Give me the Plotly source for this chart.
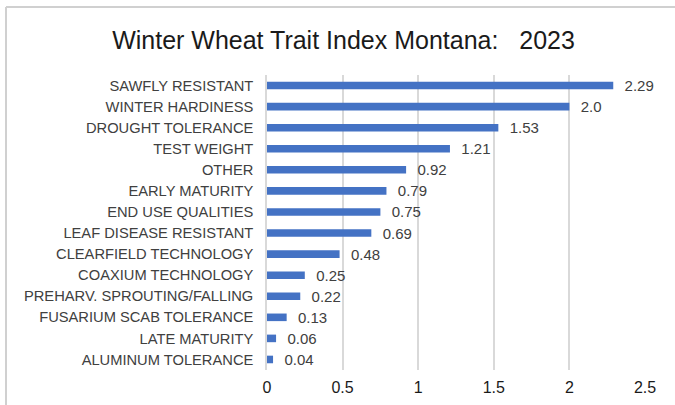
import plotly.graph_objects as go

traits = [
    "SAWFLY RESISTANT", "WINTER HARDINESS", "DROUGHT TOLERANCE", "TEST WEIGHT",
    "OTHER", "EARLY MATURITY", "END USE QUALITIES", "LEAF DISEASE RESISTANT",
    "CLEARFIELD TECHNOLOGY", "COAXIUM TECHNOLOGY", "PREHARV. SPROUTING/FALLING",
    "FUSARIUM SCAB TOLERANCE", "LATE MATURITY", "ALUMINUM TOLERANCE",
]
index_values = [2.29, 2.0, 1.53, 1.21, 0.92, 0.79, 0.75, 0.69, 0.48, 0.25, 0.22, 0.13, 0.06, 0.04]
value_labels = ["2.29", "2.0", "1.53", "1.21", "0.92", "0.79", "0.75", "0.69", "0.48",
                "0.25", "0.22", "0.13", "0.06", "0.04"]
x_ticks = [0, 0.5, 1, 1.5, 2, 2.5]
x_tick_labels = ["0", "0.5", "1", "1.5", "2", "2.5"]

W, H = 675, 405
L, R, T, B = 267, 30, 75, 35

fig = go.Figure(go.Bar(
    x=index_values,
    y=traits,
    orientation="h",
    marker=dict(color="#4472C4", line=dict(width=0)),
    width=0.36,
    text=["  " + s for s in value_labels],
    textposition="outside",
    constraintext="none",
    textfont=dict(size=15, color="#404040"),
    cliponaxis=False,
))

fig.update_layout(
    width=W, height=H,
    paper_bgcolor="white", plot_bgcolor="white",
    margin=dict(l=L, r=R, t=T, b=B, autoexpand=False),
    font=dict(family="Liberation Sans, Arial, sans-serif", color="#404040"),
    title=dict(text="Winter Wheat Trait Index Montana:&nbsp;&nbsp; 2023",
               x=(343.5 / W), xref="container", xanchor="center",
               y=1 - 40 / H, yref="container", yanchor="middle",
               font=dict(size=25, color="#1a1a1a")),
    showlegend=False,
)
fig.update_xaxes(range=[0, 2.5], tickvals=x_ticks, ticktext=x_tick_labels,
                 showgrid=True, gridcolor="#d9d9d9", gridwidth=1.5, zeroline=False,
                 tickfont=dict(size=16, color="#1a1a1a"), ticks="", ticklabelstandoff=6)
fig.update_yaxes(autorange="reversed", tickfont=dict(size=14.7, color="#404040"),
                 showline=True, linecolor="#d9d9d9", linewidth=1.5, ticks="", ticklabelstandoff=9)

# light frame on the top and left edges, as in the source image
pw, ph = W - L - R, H - T - B
top_y = 1 + (T - 7) / ph
left_x = -(L - 6) / pw
fig.add_shape(type="line", xref="paper", yref="paper", x0=left_x, x1=1 + R / pw + 0.05, y0=top_y, y1=top_y,
              line=dict(color="#d0d0d0", width=2))
fig.add_shape(type="line", xref="paper", yref="paper", x0=left_x, x1=left_x, y0=-B / ph - 0.05, y1=top_y,
              line=dict(color="#d0d0d0", width=2))

fig.write_html("out.html", config={"displayModeBar": False},
               post_script="document.body.style.margin='0';")
